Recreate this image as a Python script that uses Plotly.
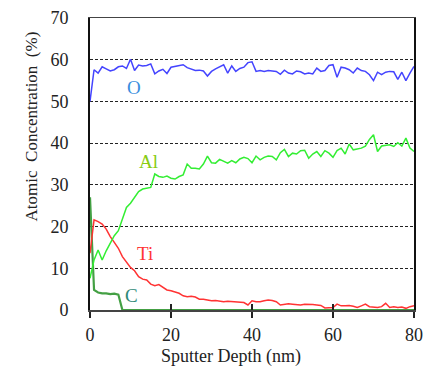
import plotly.graph_objects as go

depth = list(range(0, 81))

o_vals = [50, 57.6, 56.8, 58.3, 57.8, 57.3, 57.6, 58.3, 58.5, 57.9,
          60.1, 57.4, 58.7, 58.5, 58.6, 59, 56.6, 57.3, 57.7, 56.7,
          58.2, 58.4, 58.6, 58.8, 58.1, 57.8, 57.4, 57.5, 57.3, 56.1,
          57.2, 57.8, 58.3, 58.8, 56.8, 58.5, 57.2, 57.9, 58.2, 59.3,
          59.5, 57.2, 57.4, 57.2, 57.4, 57.3, 57.2, 56.5, 57.5, 56.8,
          56.6, 57.3, 57.1, 56.6, 56.8, 56.6, 58, 57.2, 57.4, 58.6,
          58.8, 55.8, 58.2, 58, 57.6, 56.8, 58, 57.4, 57.2, 56.4,
          55, 57, 56.4, 57, 57.2, 57.1, 55.3, 57, 55, 56.8, 58.4]

al_vals = [7.6, 12, 14.4, 12, 14.2, 16, 17.8, 19, 22, 24.6,
           25.6, 27, 28.4, 29, 29.2, 29.4, 32.6, 32, 31.8, 32.1,
           31.6, 31.4, 32, 32.4, 35, 34, 34, 33.8, 35, 36.9,
           35.3, 35.2, 36.1, 35.6, 35.2, 35.8, 35.3, 36.2, 36.6, 36.3,
           35.3, 36.9, 36, 36.6, 36.9, 36.8, 36, 37.7, 38.5, 36.8,
           37.6, 37.4, 38.2, 38.3, 36.4, 37.4, 38, 36.8, 38.2, 37.6,
           36.6, 38.2, 38.8, 37.4, 39.8, 38.4, 38.6, 38.8, 39.3, 40.9,
           42, 38, 39.3, 39.4, 39.6, 39.2, 40.1, 39.3, 41.2, 38.8, 38]

ti_vals = [13.6, 21.6, 21.2, 20.6, 19.4, 17.6, 16.2, 14.8, 12.8, 11.6,
           10.2, 9.4, 8, 7.4, 7.2, 6.2, 5.8, 6.1, 5.4, 4.8,
           4.6, 4.3, 4, 3.4, 3.2, 3.3, 3.1, 2.6, 2.6, 2.4,
           2.2, 2.3, 2.1, 2, 2.1, 2, 2, 1.9, 1.8, 1.2,
           2.2, 2, 2, 2.2, 2.4, 2.3, 2, 1.2, 1.3, 1.5,
           1.4, 1.3, 1.2, 1.4, 1.4, 1.3, 1.2, 1.1, 0.5, 0.5,
           0.6, 1.4, 1, 1, 1.1, 0.9, 0.6, 1, 1.4, 0.8,
           0.7, 0.6, 0.8, 1.6, 0.6, 0.8, 0.6, 0.7, 0.4, 0.8, 1]

c_vals = [27, 4.8, 4.2, 4, 4, 3.8, 3.9, 3.7, 0] + [0] * 72

x_ticks = [0, 20, 40, 60, 80]
y_ticks = [0, 10, 20, 30, 40, 50, 60, 70]

series_labels = ["O", "Al", "Ti", "C"]
label_x = [10.9, 14.4, 13.6, 10.3]
label_y = [53.4, 35.6, 13.6, 3.4]
label_colors = ["#3a8ede", "#88cc11", "#ff3333", "#2f8a78"]

SERIF = "Liberation Serif"

fig = go.Figure()
fig.add_trace(go.Scatter(x=depth, y=c_vals, mode="lines", name="C",
                         line=dict(color="#44a044", width=2.2), cliponaxis=False))
fig.add_trace(go.Scatter(x=depth, y=ti_vals, mode="lines", name="Ti",
                         line=dict(color="#ff3333", width=1.5)))
fig.add_trace(go.Scatter(x=depth, y=al_vals, mode="lines", name="Al",
                         line=dict(color="#33ee33", width=1.5)))
fig.add_trace(go.Scatter(x=depth, y=o_vals, mode="lines", name="O",
                         line=dict(color="#4444ff", width=1.5)))
# helper axis for inward tick marks
fig.add_trace(go.Scatter(x=[None], y=[None], xaxis="x2", showlegend=False,
                         hoverinfo="skip"))

for lab, lx, ly, lc in zip(series_labels, label_x, label_y, label_colors):
    fig.add_annotation(x=lx, y=ly, text=lab, showarrow=False,
                       font=dict(family=SERIF, size=19, color=lc))

fig.add_annotation(xref="paper", yref="paper", x=-0.216, y=0.627,
                   text="Atomic\u00a0\u00a0Concentration\u00a0\u00a0(%)", textangle=-90,
                   showarrow=False, font=dict(family=SERIF, size=17, color="#222"))
fig.add_annotation(xref="paper", yref="paper", x=0.435, y=-0.158,
                   text="Sputter Depth (nm)", showarrow=False,
                   yanchor="middle",
                   font=dict(family=SERIF, size=18, color="#222"))

fig.update_layout(
    width=428, height=369,
    margin=dict(l=90, r=14, t=18, b=59, autoexpand=False),
    paper_bgcolor="white", plot_bgcolor="white",
    showlegend=False,
    font=dict(family=SERIF, size=18, color="#222"),
    xaxis=dict(range=[0, 80], tickvals=x_ticks, ticks="outside", ticklen=6,
               tickwidth=1.3, tickcolor="#222", showgrid=False, zeroline=False,
               showline=True, linecolor="#444", linewidth=1.5, mirror=True,
               layer="below traces", ticklabelstandoff=2, automargin=False,
               tickfont=dict(family=SERIF, size=18, color="#222")),
    xaxis2=dict(range=[0, 80], tickvals=x_ticks, ticks="inside", ticklen=6,
                tickwidth=1.3, tickcolor="#222", overlaying="x", anchor="y",
                side="bottom", showticklabels=False, showgrid=False,
                zeroline=False, showline=False, automargin=False),
    yaxis=dict(range=[0, 70], tickvals=y_ticks, ticks="", showgrid=True,
               gridcolor="#222", gridwidth=1, griddash="3px,2px",
               zeroline=False, showline=True, linecolor="#111", linewidth=1.8,
               mirror=True, layer="below traces", ticklabelstandoff=16,
               automargin=False,
               tickfont=dict(family=SERIF, size=18, color="#222")),
)

fig.write_html("out.html",
               config={"displayModeBar": False, "staticPlot": True},
               post_script="document.body.style.margin='0px';"
                           "document.body.style.overflow='hidden';")
